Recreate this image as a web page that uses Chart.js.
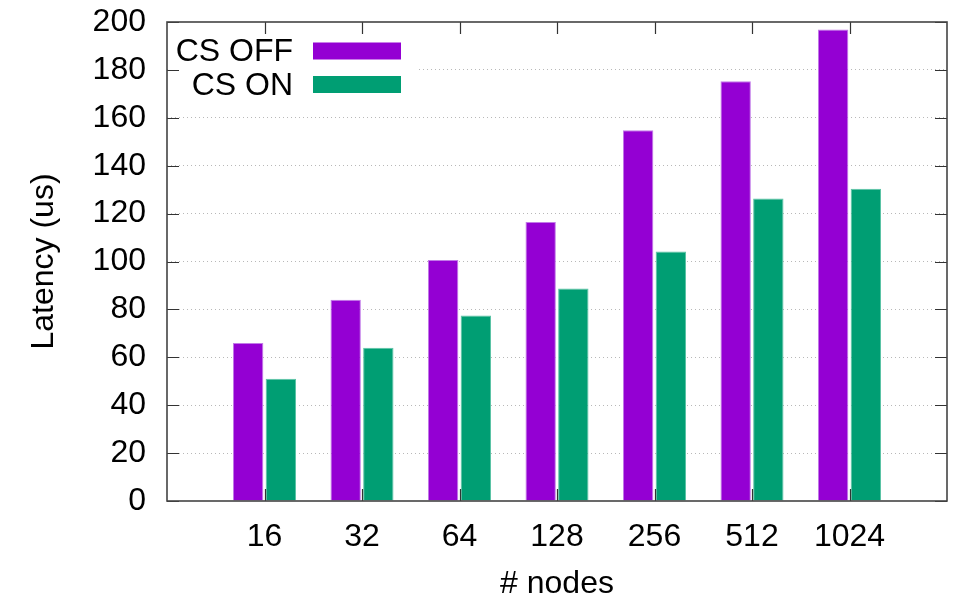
<!DOCTYPE html>
<html>
<head>
<meta charset="utf-8">
<script src="https://cdn.jsdelivr.net/npm/chart.js@4/dist/chart.umd.min.js"></script>
<style>
  html, body { margin: 0; padding: 0; background: #fff; }
  canvas { display: block; }
</style>
</head>
<body>
<canvas id="c" width="953" height="599"></canvas>
<script>
const categories = ['16', '32', '64', '128', '256', '512', '1024'];
const csOff = [66, 84, 100.6, 116.5, 154.8, 175.3, 196.9];
const csOn = [51, 64, 77.5, 88.7, 104.2, 126.3, 130.4];
const seriesNames = ['CS OFF', 'CS ON'];
const yTicks = { min: 0, max: 200, step: 20 };

const FONT = '"Liberation Sans", Arial, Helvetica, sans-serif';
const FS = 32;

// pad one empty slot on each side (gnuplot x range 0..8)
const labels = [''].concat(categories, ['']);
const pad = arr => [null].concat(arr, [null]);

const frame = {
  id: 'frame',
  afterDatasetsDraw(chart) {
    const { ctx, chartArea: a, scales } = chart;
    const x = scales.x, y = scales.y;
    ctx.save();
    // legend (opaque, text right-aligned, swatch on the right)
    ctx.fillStyle = '#fff';
    ctx.fillRect(a.left + 1, a.top + 1, 250, 78);
    chart.data.datasets.forEach((ds, i) => {
      const cy = 51 + i * 33.5;
      ctx.font = FS + 'px ' + FONT;
      ctx.fillStyle = '#000';
      ctx.textAlign = 'right';
      ctx.textBaseline = 'middle';
      ctx.fillText(ds.label, 293, cy + 1.5);
      ctx.fillStyle = ds.backgroundColor;
      ctx.fillRect(313, cy - 8.5, 88, 17);
    });
    // tick marks (inward) on all four sides
    ctx.strokeStyle = '#333';
    ctx.lineWidth = 1.2;
    const tl = 12;
    ctx.beginPath();
    y.ticks.forEach((t, i) => {
      const py = Math.round(y.getPixelForTick(i)) + 0.5;
      ctx.moveTo(a.left, py); ctx.lineTo(a.left + tl, py);
      ctx.moveTo(a.right, py); ctx.lineTo(a.right - tl, py);
    });
    x.ticks.forEach((t, i) => {
      if (i === 0 || i === x.ticks.length - 1) return;
      const px = Math.round(x.getPixelForTick(i)) + 0.5;
      ctx.moveTo(px, a.top); ctx.lineTo(px, a.top + tl);
      ctx.moveTo(px, a.bottom); ctx.lineTo(px, a.bottom - tl);
    });
    ctx.stroke();
    // border box
    ctx.strokeStyle = '#444';
    ctx.lineWidth = 1.6;
    ctx.strokeRect(a.left, a.top, a.right - a.left, a.bottom - a.top);
    ctx.restore();
  }
};

new Chart(document.getElementById('c'), {
  type: 'bar',
  data: {
    labels: labels,
    datasets: [
      { label: seriesNames[0], data: pad(csOff), backgroundColor: '#9400d3', borderColor: '#c27ae8', borderWidth: 1, borderSkipped: 'bottom' },
      { label: seriesNames[1], data: pad(csOn), backgroundColor: '#009e73', borderColor: '#5cc4a6', borderWidth: 1, borderSkipped: 'bottom' }
    ]
  },
  options: {
    responsive: false,
    animation: false,
    devicePixelRatio: 1,
    layout: { padding: { top: 22, right: 6, left: 0, bottom: 0 } },
    datasets: { bar: { categoryPercentage: 0.67, barPercentage: 0.93 } },
    plugins: { legend: { display: false }, tooltip: { enabled: false } },
    scales: {
      x: {
        offset: false,
        grid: { display: false, drawTicks: false },
        border: { display: false },
        ticks: { color: '#000', font: { family: FONT, size: FS }, padding: 16.5, maxRotation: 0, autoSkip: false },
        title: { display: true, text: '# nodes', color: '#000', font: { family: FONT, size: FS }, padding: { top: 0, bottom: -4 } },
        afterFit(s) { s.height = 98; s.paddingLeft = 0; s.paddingRight = 0; }
      },
      y: {
        min: yTicks.min, max: yTicks.max,
        grid: {
          color: ctx => (ctx.tick && (ctx.tick.value === yTicks.min || ctx.tick.value === yTicks.max)) ? 'rgba(0,0,0,0)' : '#b8b8b8',
          lineWidth: 1, drawTicks: false
        },
        border: { display: false, dash: [1, 3] },
        ticks: { stepSize: yTicks.step, color: '#000', font: { family: FONT, size: FS }, padding: 21 },
        title: { display: true, text: 'Latency (us)', color: '#000', font: { family: FONT, size: FS }, padding: { top: 25, bottom: 0 } },
        afterFit(s) { s.width = 167; s.paddingTop = 0; s.paddingBottom = 0; }
      }
    }
  },
  plugins: [frame]
});
</script>
</body>
</html>
